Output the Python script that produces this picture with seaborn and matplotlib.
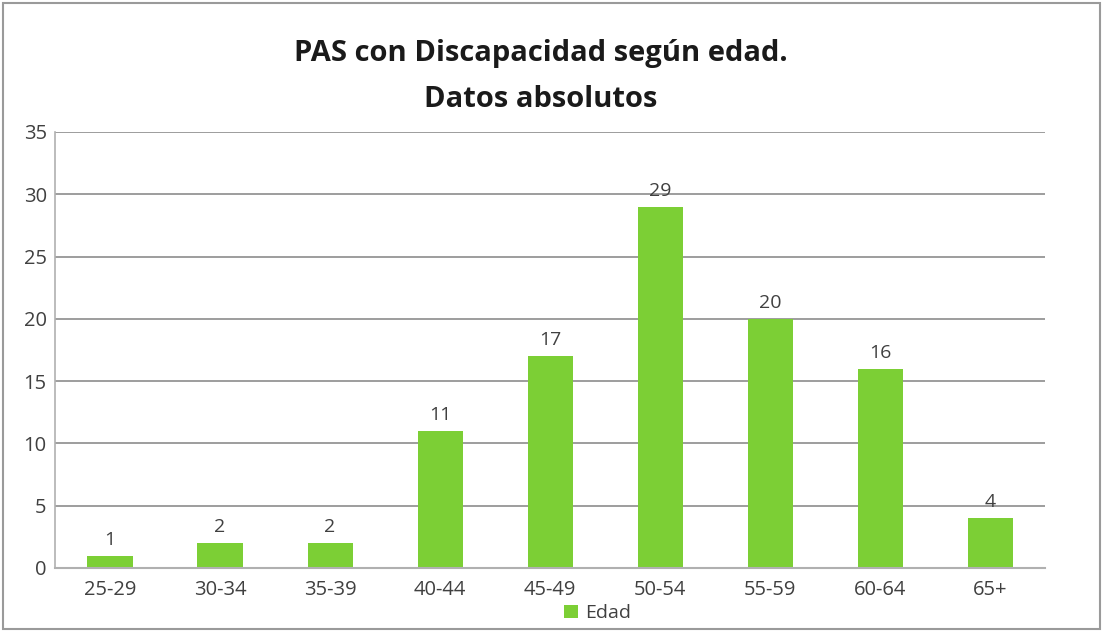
import matplotlib
matplotlib.use("Agg")
import matplotlib.pyplot as plt
import seaborn as sns
import pandas as pd
from matplotlib.patches import Rectangle

categories = ["25-29", "30-34", "35-39", "40-44", "45-49", "50-54", "55-59", "60-64", "65+"]
values = [1, 2, 2, 11, 17, 29, 20, 16, 4]
yticks = [0, 5, 10, 15, 20, 25, 30, 35]
series_name = "Edad"

sns.set_theme(style="white")
plt.rcParams['font.family'] = ['Open Sans', 'DejaVu Sans']

df = pd.DataFrame({"cat": categories, "val": values, "serie": series_name})

fig = plt.figure(figsize=(11.03, 6.32), dpi=100)
ax = fig.add_axes([0.0499, 0.1013, 0.8976, 0.6899])

green = "#7CCF35"
sns.barplot(data=df, x="cat", y="val", hue="serie", palette=[green], width=0.41,
            ax=ax, legend=True, saturation=1, edgecolor="none", linewidth=0)

ax.set_ylim(0, 35)
ax.set_xlim(-0.5, 8.5)
ax.set_yticks(yticks)
ax.yaxis.grid(True, color="#8c8c8c", linewidth=1.2)
ax.set_axisbelow(True)
for s in ["top", "right"]:
    ax.spines[s].set_visible(False)
ax.spines["left"].set_color("#b0b0b0")
ax.spines["bottom"].set_color("#b0b0b0")
ax.spines["left"].set_linewidth(1.2)
ax.spines["bottom"].set_linewidth(1.5)
ax.tick_params(axis="both", length=0, labelsize=14.5, colors="#404040")
ax.tick_params(axis="y", pad=6)
ax.tick_params(axis="x", pad=9)
ax.set_xlabel("")
ax.set_ylabel("")

for c in ax.containers:
    ax.bar_label(c, labels=[str(v) for v in values], padding=5, fontsize=14, color="#404040")

leg = ax.legend(loc="upper center", bbox_to_anchor=(0.548, -0.043), frameon=False,
                fontsize=14, handlelength=0.7, handleheight=0.7, handletextpad=0.35)
for t in leg.get_texts():
    t.set_color("#404040")

fig.text(0.49, 0.916, "PAS con Discapacidad según edad.", ha="center", va="center",
         fontsize=21, fontweight="bold", color="#1a1a1a")
fig.text(0.49, 0.842, "Datos absolutos", ha="center", va="center",
         fontsize=21, fontweight="bold", color="#1a1a1a")

fig.patches.append(Rectangle((0.003, 0.004), 0.994, 0.991, transform=fig.transFigure,
                             fill=False, edgecolor="#9a9a9a", linewidth=1.5))

fig.savefig("out.png", dpi=100)
